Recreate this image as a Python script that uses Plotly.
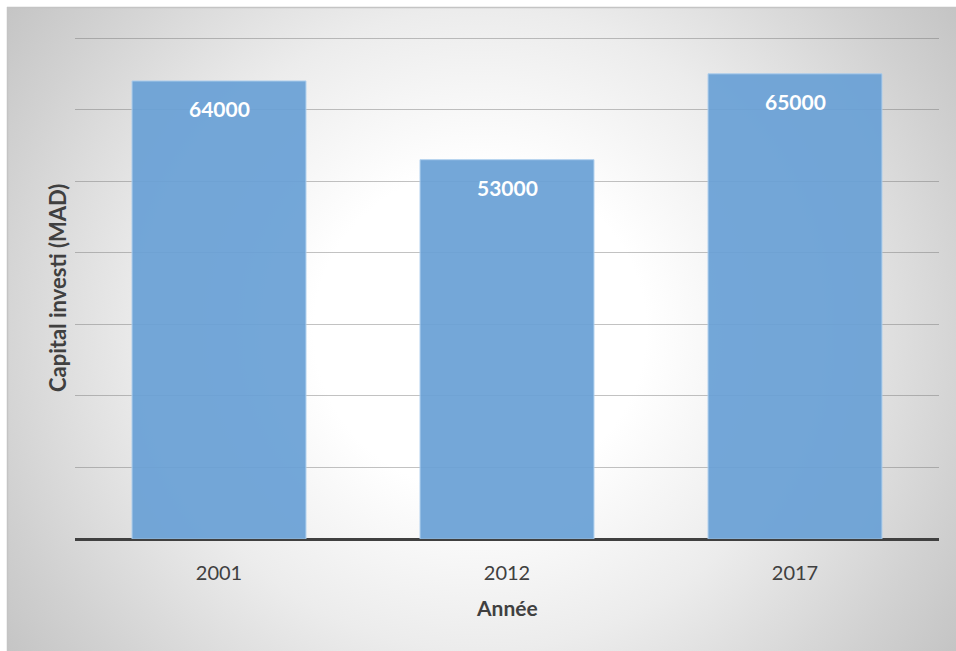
import base64
import plotly.graph_objects as go

# Capital invested per year (MAD)
years = ["2001", "2012", "2017"]
capital = [64000, 53000, 65000]
y_ticks = [0, 10000, 20000, 30000, 40000, 50000, 60000, 70000]

W, H = 956, 651
L, R, T, B = 75, 17, 28, 112
plot_w = W - L - R
plot_h = H - T - B
y_max = 71400  # headroom above the 70000 gridline

# radial grey-to-white background of the chart frame
bg_svg = f"""<svg xmlns='http://www.w3.org/2000/svg' width='{W}' height='{H}' viewBox='0 0 {W} {H}'>
<defs>
<radialGradient id='g' gradientUnits='userSpaceOnUse' cx='0' cy='0' r='1'
 gradientTransform='translate(480 330) scale(664 640)'>
<stop offset='0' stop-color='#ffffff'/>
<stop offset='0.25' stop-color='#ffffff'/>
<stop offset='0.5' stop-color='#ececec'/>
<stop offset='0.75' stop-color='#d1d1d1'/>
<stop offset='0.87' stop-color='#c5c5c5'/>
<stop offset='1' stop-color='#bdbdbd'/>
</radialGradient>
</defs>
<rect x='0' y='0' width='{W}' height='{H}' fill='#ffffff'/>
<rect x='7' y='7' width='{W-7}' height='{H-7}' fill='url(#g)'/>
<line x1='7' y1='7.5' x2='{W}' y2='7.5' stroke='#c4c4c4' stroke-width='1.5'/>
<line x1='7.5' y1='7' x2='7.5' y2='{H}' stroke='#c4c4c4' stroke-width='1.5'/>
</svg>"""
bg_uri = "data:image/svg+xml;base64," + base64.b64encode(bg_svg.encode()).decode()

fig = go.Figure()
fig.add_trace(go.Bar(
    x=years,
    y=capital,
    width=0.604,
    marker=dict(color="rgb(106,161,214)", line=dict(color="rgb(172,206,238)", width=1)),
    opacity=0.93,
    hoverinfo="x+y",
))

font_family = "Lato, 'Open Sans', sans-serif"

annotations = []
# value labels just below the top of each bar (x given as category index)
for i, v in enumerate(capital):
    annotations.append(dict(
        x=i, y=v, xref="x", yref="y", text=f"<b>{v}</b>", showarrow=False,
        yanchor="top", yshift=-13,
        font=dict(family=font_family, size=21, color="white"),
    ))

annotations.append(dict(
    x=0.5, y=-(607 - (H - B)) / plot_h, xref="paper", yref="paper",
    text="<b>Année</b>", showarrow=False, xanchor="center", yanchor="middle",
    font=dict(family=font_family, size=21, color="#404040"),
))
annotations.append(dict(
    x=(57 - L) / plot_w, y=(H - B - 288) / plot_h, xref="paper", yref="paper",
    text="<b>Capital investi (MAD)</b>", showarrow=False, textangle=-90,
    xanchor="center", yanchor="middle",
    font=dict(family=font_family, size=22, color="#404040"),
))

fig.update_layout(
    width=W, height=H,
    margin=dict(l=L, r=R, t=T, b=B),
    paper_bgcolor="white",
    plot_bgcolor="rgba(0,0,0,0)",
    showlegend=False,
    annotations=annotations,
    images=[dict(
        source=bg_uri, xref="paper", yref="paper",
        x=-L / plot_w, y=1 + T / plot_h, sizex=W / plot_w, sizey=H / plot_h,
        xanchor="left", yanchor="top", sizing="stretch", layer="below",
    )],
    xaxis=dict(
        type="category", range=[-0.5, len(years) - 0.5],
        showgrid=False, showline=False, ticks="",
        tickfont=dict(family=font_family, size=20, color="#404040"),
        ticklabelstandoff=20,
    ),
    yaxis=dict(
        range=[0, y_max], tickvals=y_ticks, showticklabels=False,
        showgrid=True, gridcolor="rgba(110,110,110,0.42)", gridwidth=1,
        zeroline=True, zerolinecolor="#404040", zerolinewidth=3,
        showline=False, ticks="",
    ),
)

fig.write_html("out.html")
